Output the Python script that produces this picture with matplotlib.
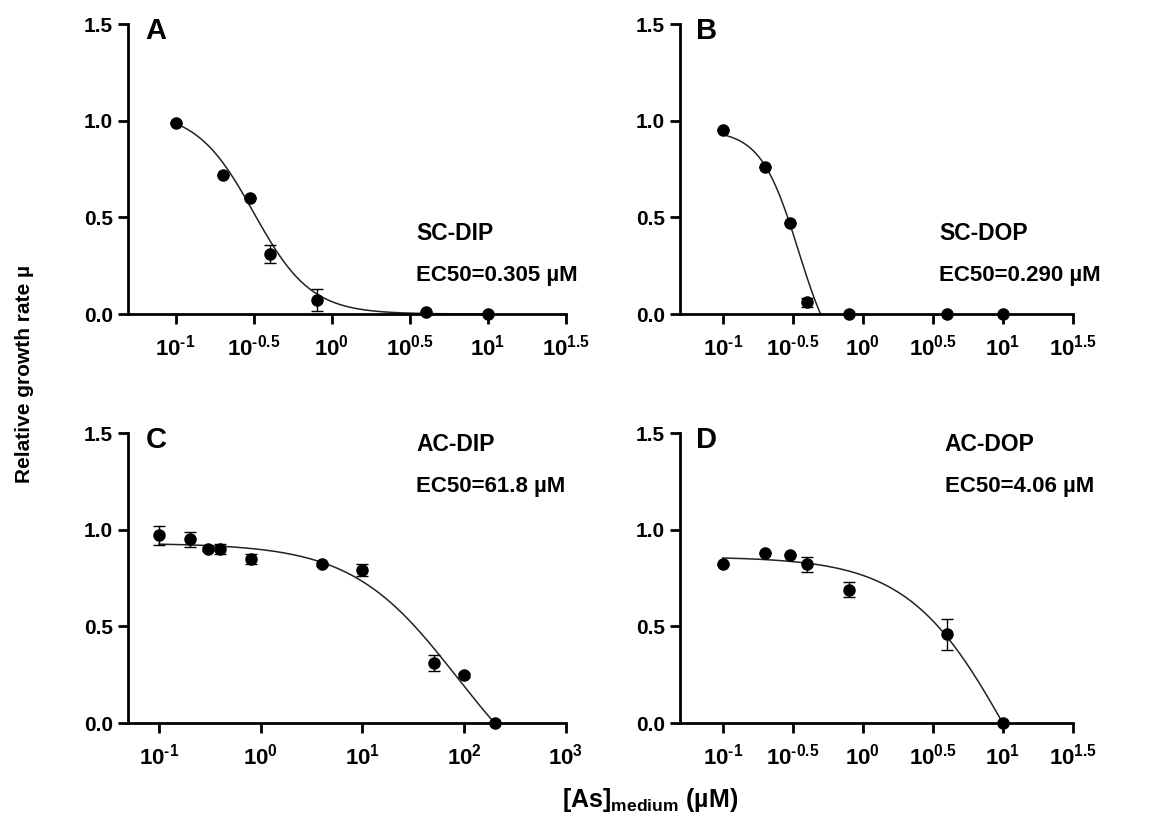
import numpy as np
from matplotlib import pyplot as plt

plt.rcParams['font.family'] = ['Liberation Sans', 'DejaVu Sans']
plt.rcParams['font.weight'] = 'bold'
plt.rcParams['mathtext.fontset'] = 'custom'
plt.rcParams['mathtext.rm'] = 'Liberation Sans:bold'
plt.rcParams['mathtext.bf'] = 'Liberation Sans:bold'

# data (x in uM, y = relative growth rate)
A_x = [0.1, 0.2, 0.3, 0.4, 0.8, 4, 10]
A_y = [0.99, 0.72, 0.60, 0.31, 0.07, 0.012, 0.0]
A_err = [0, 0, 0, 0.045, 0.057, 0, 0]

B_x = [0.1, 0.2, 0.3, 0.4, 0.8, 4, 10]
B_y = [0.95, 0.76, 0.47, 0.06, 0.0, 0.0, 0.0]
B_err = [0, 0, 0, 0.025, 0, 0, 0]

C_x = [0.1, 0.2, 0.3, 0.4, 0.8, 4, 10, 50, 100, 200]
C_y = [0.97, 0.95, 0.90, 0.90, 0.85, 0.82, 0.79, 0.31, 0.25, 0.0]
C_err = [0.05, 0.04, 0.01, 0.025, 0.025, 0.01, 0.03, 0.04, 0.01, 0]

D_x = [0.1, 0.2, 0.3, 0.4, 0.8, 4, 10]
D_y = [0.82, 0.88, 0.87, 0.82, 0.69, 0.46, 0.0]
D_err = [0, 0, 0, 0.04, 0.04, 0.08, 0]

# fitted dose-response parameters: top, bottom, midpoint, hill
A_fit = [1.05, 0.0, 0.316, 2.37]
B_fit = [0.95, -0.3, 0.348, 3.2]
C_fit = [0.93, -0.45, 84.0, 0.84]
D_fit = [0.86, -1.0, 11.3, 1.2]

LETTERS = ['A', 'B', 'C', 'D']
NAMES = ['SC-DIP', 'SC-DOP', 'AC-DIP', 'AC-DOP']
EC50_TEXT = ['EC50=0.305 µM', 'EC50=0.290 µM', 'EC50=61.8 µM', 'EC50=4.06 µM']

HALF_TICKS = [-1, -0.5, 0, 0.5, 1, 1.5]
HALF_LABELS = [r'$\mathbf{10}^{\text{-1}}$', r'$\mathbf{10}^{\text{-0.5}}$', r'$\mathbf{10}^{\text{0}}$',
               r'$\mathbf{10}^{\text{0.5}}$', r'$\mathbf{10}^{\text{1}}$', r'$\mathbf{10}^{\text{1.5}}$']
DEC_TICKS = [-1, 0, 1, 2, 3]
DEC_LABELS = [r'$\mathbf{10}^{\text{-1}}$', r'$\mathbf{10}^{\text{0}}$', r'$\mathbf{10}^{\text{1}}$',
              r'$\mathbf{10}^{\text{2}}$', r'$\mathbf{10}^{\text{3}}$']


def logistic(x, top, bottom, mid, hill):
    return bottom + (top - bottom) / (1 + (x / mid) ** hill)


fig = plt.figure(figsize=(11.61, 8.22), dpi=100)

# axes rectangles in figure fractions (left, bottom, width, height)
rects = [
    (0.1102, 0.618, 0.3773, 0.3528),
    (0.5857, 0.618, 0.3385, 0.3528),
    (0.1102, 0.1204, 0.3773, 0.3528),
    (0.5857, 0.1204, 0.3385, 0.3528),
]
panels = [
    (A_x, A_y, A_err, A_fit, HALF_TICKS, HALF_LABELS, (0.658, 0.279)),
    (B_x, B_y, B_err, B_fit, HALF_TICKS, HALF_LABELS, (0.659, 0.279)),
    (C_x, C_y, C_err, C_fit, DEC_TICKS, DEC_LABELS, (0.658, 0.962)),
    (D_x, D_y, D_err, D_fit, HALF_TICKS, HALF_LABELS, (0.674, 0.962)),
]

for i, (rect, panel) in enumerate(zip(rects, panels)):
    x, y, err, fit, ticks, labels, txt_pos = panel
    ax = fig.add_axes(rect)

    xs = np.logspace(np.log10(min(x)), np.log10(max(x)), 300)
    ax.plot(xs, logistic(xs, *fit), color='#222222', lw=1.1, zorder=2)
    ax.errorbar(x, y, yerr=err, fmt='o', color='black', ms=8, capsize=4,
                elinewidth=1, capthick=1, clip_on=False, zorder=3)

    ax.set_xscale('log')
    ax.set_xlim(10 ** (ticks[0] - 0.305), 10 ** ticks[-1])
    ax.set_ylim(0, 1.5)
    ax.set_xticks([10 ** t for t in ticks])
    ax.set_xticklabels(labels)
    ax.minorticks_off()
    ax.set_yticks([0, 0.5, 1.0, 1.5])
    ax.set_yticklabels(['0.0', '0.5', '1.0', '1.5'])

    for s in ['top', 'right']:
        ax.spines[s].set_visible(False)
    for s in ['left', 'bottom']:
        ax.spines[s].set_linewidth(2)
    ax.tick_params(axis='y', direction='out', length=7, width=2,
                   labelsize=15, pad=4)
    ax.tick_params(axis='x', direction='out', length=7, width=2,
                   labelsize=16, pad=8)

    ax.text(0.04, 0.976, LETTERS[i], transform=ax.transAxes, fontsize=21,
            fontweight='bold', va='center', ha='left')
    ax.text(txt_pos[0], txt_pos[1], NAMES[i], transform=ax.transAxes,
            fontsize=16.5, fontweight='bold', va='center', ha='left')
    ax.text(txt_pos[0], txt_pos[1] - 0.145, EC50_TEXT[i], transform=ax.transAxes,
            fontsize=16, fontweight='bold', va='center', ha='left')

fig.text(0.021, 0.545, 'Relative growth rate µ', rotation=90, fontsize=15,
         fontweight='bold', va='center', ha='center')
fig.text(0.56, 0.027, r'[As]$_{\mathbf{medium}}$ (µM)', fontsize=18,
         fontweight='bold', va='center', ha='center')

plt.savefig('out.png', dpi=100)
plt.close()
